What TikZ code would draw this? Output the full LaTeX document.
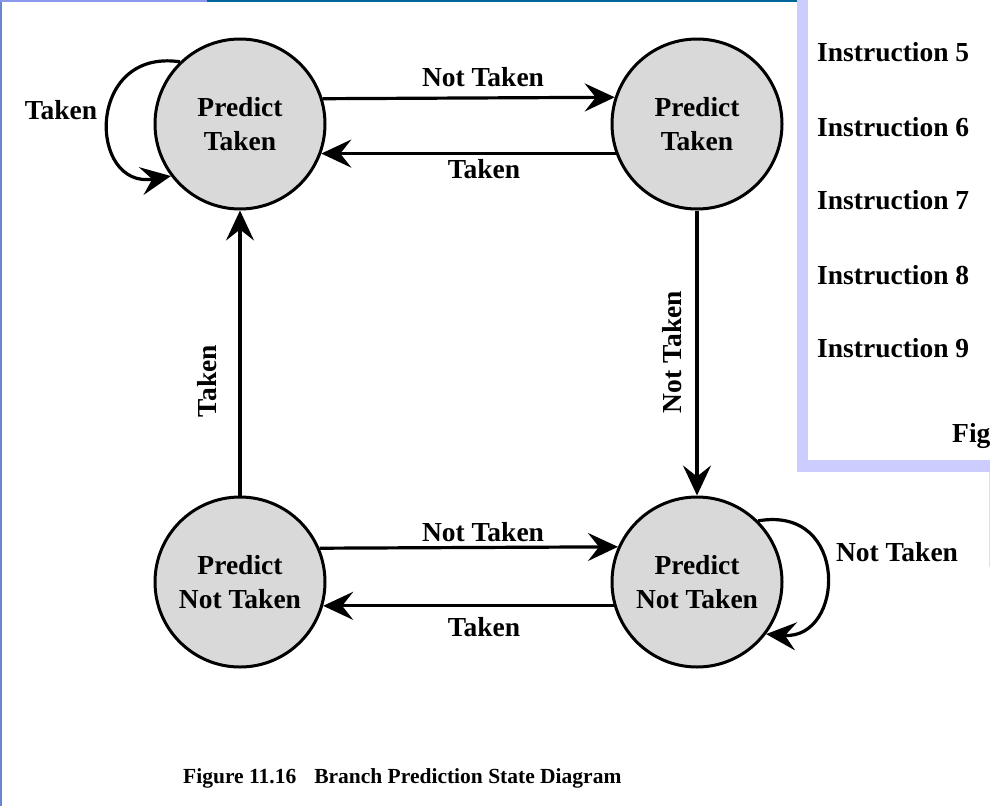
\documentclass[tikz,border=0pt]{standalone}
\usepackage{fontspec}
\setmainfont{Liberation Serif}
\usetikzlibrary{arrows.meta}
\definecolor{lav}{HTML}{CCCCFF}
\definecolor{topteal}{HTML}{006699}
\definecolor{stategray}{HTML}{D9D9D9}
\definecolor{edgeblue}{HTML}{6A86D0}
\definecolor{topblue}{HTML}{8C98EC}
\begin{document}
\begin{tikzpicture}[x=1pt,y=-1pt,
  every node/.style={inner sep=0pt},
  txt/.style={font=\fontsize{27.5}{34}\selectfont\bfseries},
  state/.style={circle, draw=black, line width=3pt, fill=stategray, minimum size=170pt, align=center, txt},
  arr/.style={line width=3.2pt, -{Stealth[length=30pt,width=28pt,inset=11pt]}},
  lbl/.style={txt}]
\useasboundingbox (0,0) rectangle (990,806);
\fill[white] (0,0) rectangle (990,806);
% frame decorations
\fill[edgeblue] (0,0) rectangle (2,806);
\fill[topblue] (0,0) rectangle (207,2);
\fill[topteal] (207,0) rectangle (797,2);
\fill[lav] (797,0) rectangle (808,472);
\fill[lav] (797,460) rectangle (990,472);
\draw[black!12, line width=1pt] (989.5,472) -- (989.5,567);
% right panel texts
\node[lbl, anchor=west] (i5) at (817,52) {Instruction 5};
\node[lbl, anchor=west] (i6) at (817,127) {Instruction 6};
\node[lbl, anchor=west] (i7) at (817,200) {Instruction 7};
\node[lbl, anchor=west] (i8) at (817,275) {Instruction 8};
\node[lbl, anchor=west] (i9) at (817,348) {Instruction 9};
\node[lbl, anchor=base west] (fig) at (952,442) {Fig};
% states
\node[state] (PTL) at (240,124) {Predict\\Taken};
\node[state] (PTR) at (697,124) {Predict\\Taken};
\node[state] (PNL) at (240,582) {Predict\\Not Taken};
\node[state] (PNR) at (697,582) {Predict\\Not Taken};
% transitions
\draw[arr] (PTL.17.8) -- (PTR.162.2);
\draw[arr] (PTR.200) -- (PTL.-20);
\draw[arr] (PNL.23.6) -- (PNR.156.4);
\draw[arr] (PNR.196.4) -- (PNL.-16.4);
\draw[arr] (PNL.north) -- (PTL.south);
\draw[arr] (PTR.south) -- (PNR.north);
\draw[arr] (PTL.134) .. controls (85,48) and (88,190) .. (PTL.217);
\draw[arr] (PNR.45) .. controls (850,505) and (845,640) .. (PNR.-37);
% labels
\node[lbl] (l1) at (483,77) {Not Taken};
\node[lbl] (l2) at (484,169) {Taken};
\node[lbl] (l3) at (483,532) {Not Taken};
\node[lbl] (l4) at (484,627) {Taken};
\node[lbl, rotate=90] (l5) at (207,381) {Taken};
\node[lbl, rotate=90] (l6) at (672,352) {Not Taken};
\node[lbl] (l7) at (61,110) {Taken};
\node[lbl] (l8) at (897,552) {Not Taken};
% caption
\node[anchor=base west, font=\fontsize{21.5}{26}\selectfont\bfseries] (cap) at (183,783) {Figure 11.16\hspace{18pt}Branch Prediction State Diagram};
\end{tikzpicture}
\end{document}
